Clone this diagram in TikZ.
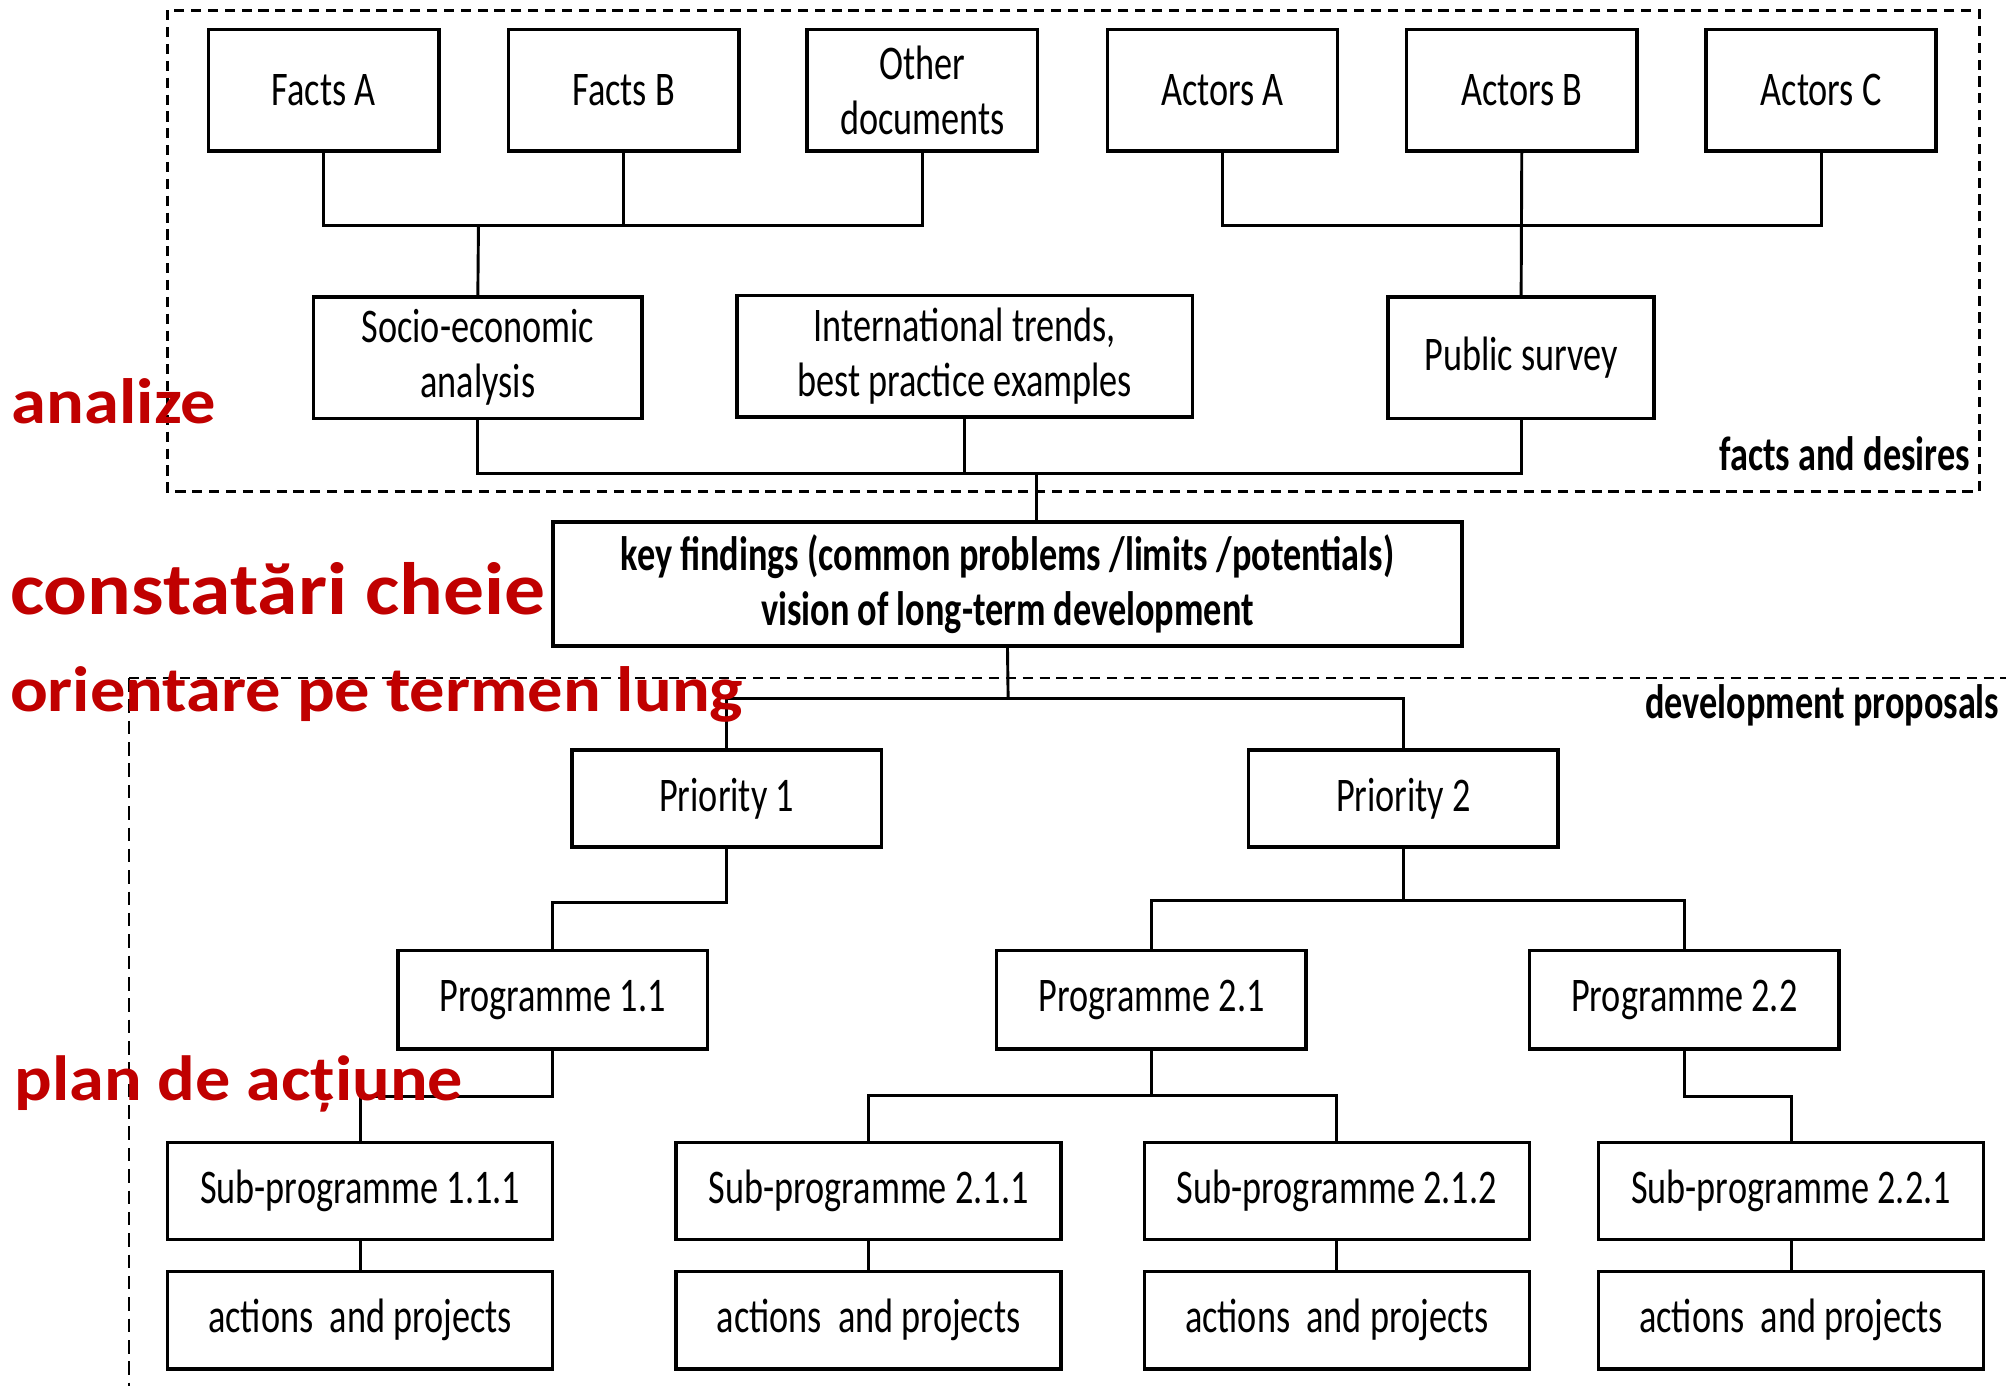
\documentclass[tikz,border=0pt]{standalone}
\usepackage{fontspec}
\usepackage{tikz}
\setmainfont{Carlito}
\newfontfamily\boxfont{Carlito}[FakeStretch=0.75]
\newfontfamily\redfont{Carlito}[FakeStretch=1.1]
\definecolor{labred}{RGB}{192,0,0}

\begin{document}
\begin{tikzpicture}[x=0.02cm,y=-0.02cm,
  box/.style={draw,black,line width=1.6pt,inner sep=0pt,align=center,
    font=\boxfont\fontsize{21.5}{24.5}\selectfont},
  conn/.style={black,line width=1.3pt},
  dashbox/.style={black,line width=1.2pt,dash pattern=on 4.5pt off 3pt},
  dashthin/.style={black,line width=0.7pt,dash pattern=on 6pt off 3.5pt},
  tag/.style={inner sep=0pt,font=\boxfont\bfseries\fontsize{21.5}{24.5}\selectfont},
  redtag/.style={inner sep=0pt,anchor=base west,text=labred}]
\useasboundingbox (0,0) rectangle (1568,1083);

\draw [dashbox] (131,8) rectangle (1547,384);
\draw [dashbox] (101,530) -- (1568,530);
\draw [dashthin] (101,530) -- (101,1083);

\node [box,minimum width=3.6cm,minimum height=1.9cm] (facA) at (253,70.5) {Facts A};
\node [box,minimum width=3.6cm,minimum height=1.9cm] (facB) at (487.5,70.5) {Facts B};
\node [box,minimum width=3.6cm,minimum height=1.9cm] (othD) at (721,70.5) {Other\\documents};
\node [box,minimum width=3.6cm,minimum height=1.9cm] (actA) at (955.5,70.5) {Actors A};
\node [box,minimum width=3.6cm,minimum height=1.9cm] (actB) at (1189.5,70.5) {Actors B};
\node [box,minimum width=3.6cm,minimum height=1.9cm] (actC) at (1423.5,70.5) {Actors C};

\node [box,minimum width=5.14cm,minimum height=1.9cm] (soc) at (373.5,279.5) {Socio-economic\\analysis};
\node [box,minimum width=7.12cm,minimum height=1.9cm] (intl) at (754,278.5) {International trends,\\best practice examples};
\node [box,minimum width=4.16cm,minimum height=1.9cm] (pub) at (1189,279.5) {Public survey};

\node [box,minimum width=14.22cm,minimum height=1.94cm,font=\boxfont\bfseries\fontsize{21.5}{24.5}\selectfont] (key) at (787.5,456.5)
  {key findings (common problems /limits /potentials)\\vision of long-term development};

\node [box,minimum width=4.84cm,minimum height=1.52cm] (pri1) at (568,624) {Priority 1};
\node [box,minimum width=4.84cm,minimum height=1.52cm] (pri2) at (1097,624) {Priority 2};

\node [box,minimum width=4.84cm,minimum height=1.54cm] (pro11) at (432,781.5) {Programme 1.1};
\node [box,minimum width=4.84cm,minimum height=1.54cm] (pro21) at (900,781.5) {Programme 2.1};
\node [box,minimum width=4.84cm,minimum height=1.54cm] (pro22) at (1316.5,781.5) {Programme 2.2};

\node [box,minimum width=6.02cm,minimum height=1.52cm] (s111) at (281.5,931) {Sub-programme 1.1.1};
\node [box,minimum width=6.02cm,minimum height=1.52cm] (s211) at (679,931) {Sub-programme 2.1.1};
\node [box,minimum width=6.02cm,minimum height=1.52cm] (s212) at (1045,931) {Sub-programme 2.1.2};
\node [box,minimum width=6.02cm,minimum height=1.52cm] (s221) at (1400,931) {Sub-programme 2.2.1};
\foreach \n/\x in {111/281.5,211/679,212/1045,221/1400}
  \node [box,minimum width=6.02cm,minimum height=1.52cm] (a\n) at (\x,1032) {actions\ \ and projects};

\coordinate (jFacts) at (374,176);
\coordinate (jAct) at (1189.5,176);
\coordinate (jAna) at (810,370);
\coordinate (jKey) at (788,546);
\coordinate (jP2) at (1097,704);
\coordinate (jPr21) at (900,856);

\draw [conn] (facA.south) |- (jFacts) -| (othD.south);
\draw [conn] (facB.south) -- (facB.south |- jFacts);
\draw [conn] (jFacts) -- (soc.north);
\draw [conn] (actA.south) |- (jAct) -| (actC.south);
\draw [conn] (actB.south) -- (pub.north);
\draw [conn] (soc.south) |- (jAna) -| (pub.south);
\draw [conn] (intl.south) -- (intl.south |- jAna);
\draw [conn] (jAna) -- (jAna |- key.north);
\draw [conn] (key.south) -- (jKey);
\draw [conn] (pri1.north) |- (jKey) -| (pri2.north);
\draw [conn] (pri1.south) -- ++(0,42) -| (pro11.north);
\draw [conn] (pri2.south) -- (jP2);
\draw [conn] (pro21.north) |- (jP2) -| (pro22.north);
\draw [conn] (pro11.south) -- ++(0,36) -| (s111.north);
\draw [conn] (pro21.south) -- (jPr21);
\draw [conn] (s211.north) |- (jPr21) -| (s212.north);
\draw [conn] (pro22.south) -- ++(0,36) -| (s221.north);
\foreach \n in {111,211,212,221}
  \draw [conn] (s\n) -- (a\n);

\node [tag,anchor=east] (factsTag) at (1540,355) {facts and desires};
\node [tag,anchor=east] (devTag) at (1563,551) {development proposals};

\node [redtag,font=\redfont\bfseries\fontsize{28.5}{31}\selectfont] (anaTag) at (9,331) {analize};
\node [redtag,font=\redfont\bfseries\fontsize{33}{36}\selectfont] (keyTag) at (7.5,480) {constatări cheie};
\node [redtag,font=\redfont\bfseries\fontsize{28.5}{31}\selectfont] (oriTag) at (7.5,556) {orientare pe termen lung};
\node [redtag,font=\redfont\bfseries\fontsize{28.4}{31}\selectfont] (planTag) at (11,860) {plan de acțiune};
\end{tikzpicture}
\end{document}
